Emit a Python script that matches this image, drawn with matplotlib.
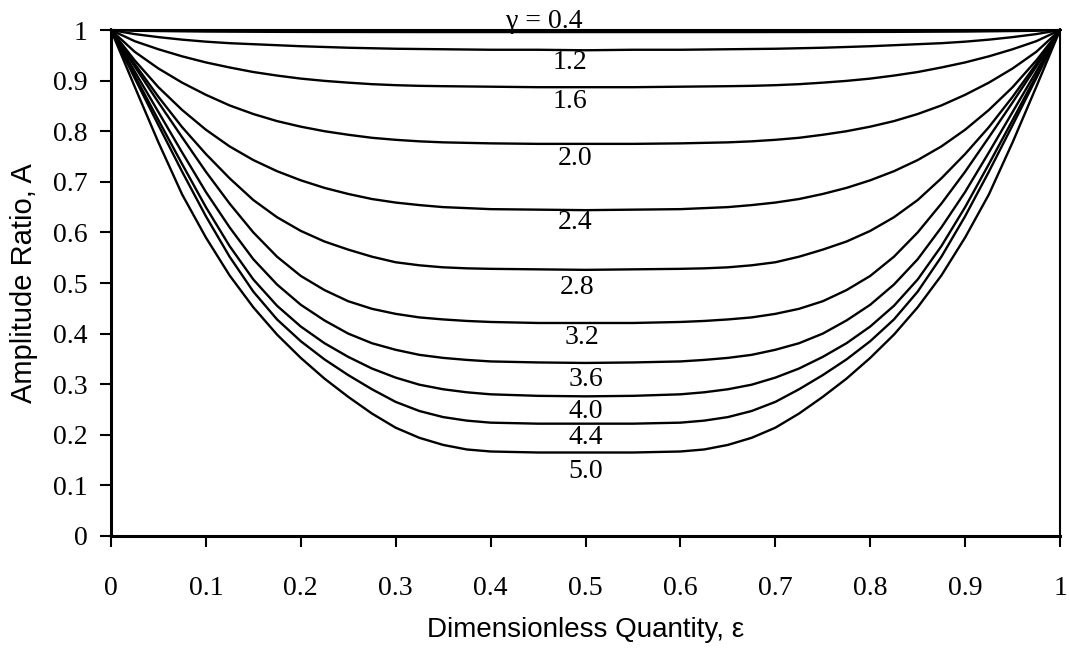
import numpy as np
import matplotlib
matplotlib.use("Agg")
import matplotlib.pyplot as plt

## Amplitude ratio curves, one list per gamma
eps = [0, 0.025, 0.05, 0.075, 0.1, 0.125, 0.15, 0.175, 0.2, 0.225, 0.25, 0.275, 0.3, 0.325, 0.35, 0.375, 0.4, 0.45, 0.5,
       0.55, 0.6, 0.625, 0.65, 0.675, 0.7, 0.725, 0.75, 0.775, 0.8, 0.825, 0.85, 0.875, 0.9, 0.925, 0.95, 0.975, 1]

A_04 = [1, 0.9985, 0.998, 0.9975, 0.997, 0.9968, 0.9966, 0.9964, 0.9963, 0.9962, 0.9962, 0.9961, 0.9961, 0.996, 0.996, 0.996, 0.996, 0.996, 0.996,
        0.996, 0.996, 0.996, 0.996, 0.996, 0.9961, 0.9961, 0.9962, 0.9962, 0.9963, 0.9964, 0.9966, 0.9968, 0.997, 0.9975, 0.998, 0.9985, 1]
A_12 = [1, 0.992, 0.986, 0.981, 0.977, 0.974, 0.972, 0.970, 0.968, 0.9665, 0.965, 0.964, 0.963, 0.9625, 0.962, 0.9615, 0.961, 0.961, 0.960,
        0.961, 0.961, 0.9615, 0.962, 0.9625, 0.963, 0.964, 0.965, 0.9665, 0.968, 0.970, 0.972, 0.974, 0.977, 0.981, 0.986, 0.992, 1]
A_16 = [1, 0.978, 0.962, 0.948, 0.936, 0.926, 0.917, 0.910, 0.904, 0.8995, 0.896, 0.893, 0.891, 0.8897, 0.889, 0.8885, 0.888, 0.887, 0.887,
        0.887, 0.888, 0.8885, 0.889, 0.8897, 0.891, 0.893, 0.896, 0.8995, 0.904, 0.910, 0.917, 0.926, 0.936, 0.948, 0.962, 0.978, 1]
A_20 = [1, 0.957, 0.924, 0.896, 0.872, 0.851, 0.834, 0.820, 0.809, 0.800, 0.793, 0.787, 0.783, 0.780, 0.778, 0.777, 0.776, 0.775, 0.775,
        0.775, 0.776, 0.777, 0.778, 0.780, 0.783, 0.787, 0.793, 0.800, 0.809, 0.820, 0.834, 0.851, 0.872, 0.896, 0.924, 0.957, 1]
A_24 = [1, 0.940, 0.887, 0.842, 0.803, 0.770, 0.743, 0.721, 0.703, 0.688, 0.676, 0.666, 0.659, 0.654, 0.650, 0.648, 0.646, 0.645, 0.644,
        0.645, 0.646, 0.648, 0.650, 0.654, 0.659, 0.666, 0.676, 0.688, 0.703, 0.721, 0.743, 0.770, 0.803, 0.842, 0.887, 0.940, 1]
A_28 = [1, 0.933, 0.868, 0.808, 0.755, 0.707, 0.664, 0.630, 0.603, 0.582, 0.566, 0.552, 0.541, 0.535, 0.531, 0.529, 0.528, 0.527, 0.526,
        0.527, 0.528, 0.529, 0.531, 0.535, 0.541, 0.552, 0.566, 0.582, 0.603, 0.630, 0.664, 0.707, 0.755, 0.808, 0.868, 0.933, 1]
A_32 = [1, 0.928, 0.857, 0.788, 0.720, 0.657, 0.600, 0.552, 0.514, 0.486, 0.464, 0.449, 0.439, 0.432, 0.428, 0.425, 0.423, 0.421, 0.421,
        0.421, 0.423, 0.425, 0.428, 0.432, 0.439, 0.449, 0.464, 0.486, 0.514, 0.552, 0.600, 0.657, 0.720, 0.788, 0.857, 0.928, 1]
A_36 = [1, 0.918, 0.838, 0.758, 0.680, 0.610, 0.547, 0.497, 0.457, 0.426, 0.400, 0.381, 0.368, 0.358, 0.352, 0.348, 0.345, 0.343, 0.342,
        0.343, 0.345, 0.348, 0.352, 0.358, 0.368, 0.381, 0.400, 0.426, 0.457, 0.497, 0.547, 0.610, 0.680, 0.758, 0.838, 0.918, 1]
A_40 = [1, 0.910, 0.822, 0.735, 0.650, 0.573, 0.507, 0.455, 0.414, 0.381, 0.354, 0.331, 0.313, 0.299, 0.290, 0.284, 0.280, 0.277, 0.276,
        0.277, 0.280, 0.284, 0.290, 0.299, 0.313, 0.331, 0.354, 0.381, 0.414, 0.455, 0.507, 0.573, 0.650, 0.735, 0.822, 0.910, 1]
A_44 = [1, 0.905, 0.812, 0.720, 0.632, 0.552, 0.483, 0.428, 0.385, 0.349, 0.318, 0.290, 0.265, 0.247, 0.235, 0.228, 0.224, 0.222, 0.222,
        0.222, 0.224, 0.228, 0.235, 0.247, 0.265, 0.290, 0.318, 0.349, 0.385, 0.428, 0.483, 0.552, 0.632, 0.720, 0.812, 0.905, 1]
A_50 = [1, 0.888, 0.778, 0.675, 0.590, 0.515, 0.452, 0.398, 0.352, 0.311, 0.275, 0.242, 0.214, 0.194, 0.180, 0.171, 0.167, 0.165, 0.165,
        0.165, 0.167, 0.171, 0.180, 0.194, 0.214, 0.242, 0.275, 0.311, 0.352, 0.398, 0.452, 0.515, 0.590, 0.675, 0.778, 0.888, 1]

curves = [A_04, A_12, A_16, A_20, A_24, A_28, A_32, A_36, A_40, A_44, A_50]

# curve labels: text, x, y (centre)
labels = ['\u03b3 = 0.4', '1.2', '1.6', '2.0', '2.4', '2.8', '3.2', '3.6', '4.0', '4.4', '5.0']
label_x = [0.457, 0.484, 0.484, 0.489, 0.489, 0.491, 0.496, 0.5, 0.5, 0.5, 0.5]
label_y = [1.016, 0.935, 0.858, 0.747, 0.619, 0.492, 0.393, 0.310, 0.247, 0.194, 0.128]

ticks = [0, 0.1, 0.2, 0.3, 0.4, 0.5, 0.6, 0.7, 0.8, 0.9, 1]
tick_text = ['0', '0.1', '0.2', '0.3', '0.4', '0.5', '0.6', '0.7', '0.8', '0.9', '1']

serif = 'Liberation Serif'
sans = 'Liberation Sans'

fig = plt.figure(figsize=(10.7, 6.5), dpi=100)
ax = fig.add_axes([0.1037, 0.1754, 0.887, 0.7784])

for A in curves:
    ax.plot(eps, A, color='black', lw=1.7, zorder=3, clip_on=False)

for t, x, y in zip(labels, label_x, label_y):
    ax.text(x, y, t, ha='center', va='center', fontsize=20, family=serif, zorder=2)

ax.set_xlim(0, 1)
ax.set_ylim(0, 1)
ax.set_xticks(ticks)
ax.set_xticklabels(tick_text, family=serif, fontsize=20)
ax.set_yticks(ticks)
ax.set_yticklabels(tick_text, family=serif, fontsize=20)
ax.tick_params(axis='x', direction='out', length=8, width=1.5, pad=21)
ax.tick_params(axis='y', direction='out', length=8, width=1.5, pad=9)

for s in ['left', 'bottom']:
    ax.spines[s].set_linewidth(2.2)
for s in ['top', 'right']:
    ax.spines[s].set_linewidth(1.5)

ax.set_xlabel('Dimensionless Quantity, \u03b5', family=sans, fontsize=20)
ax.set_ylabel('Amplitude Ratio, A', family=sans, fontsize=21)
ax.xaxis.set_label_coords(0.5, -0.186)
ax.yaxis.set_label_coords(-0.092, 0.5)
ax.xaxis.label.set_va('center')
ax.yaxis.label.set_va('center')

fig.savefig('out.png', dpi=100)
